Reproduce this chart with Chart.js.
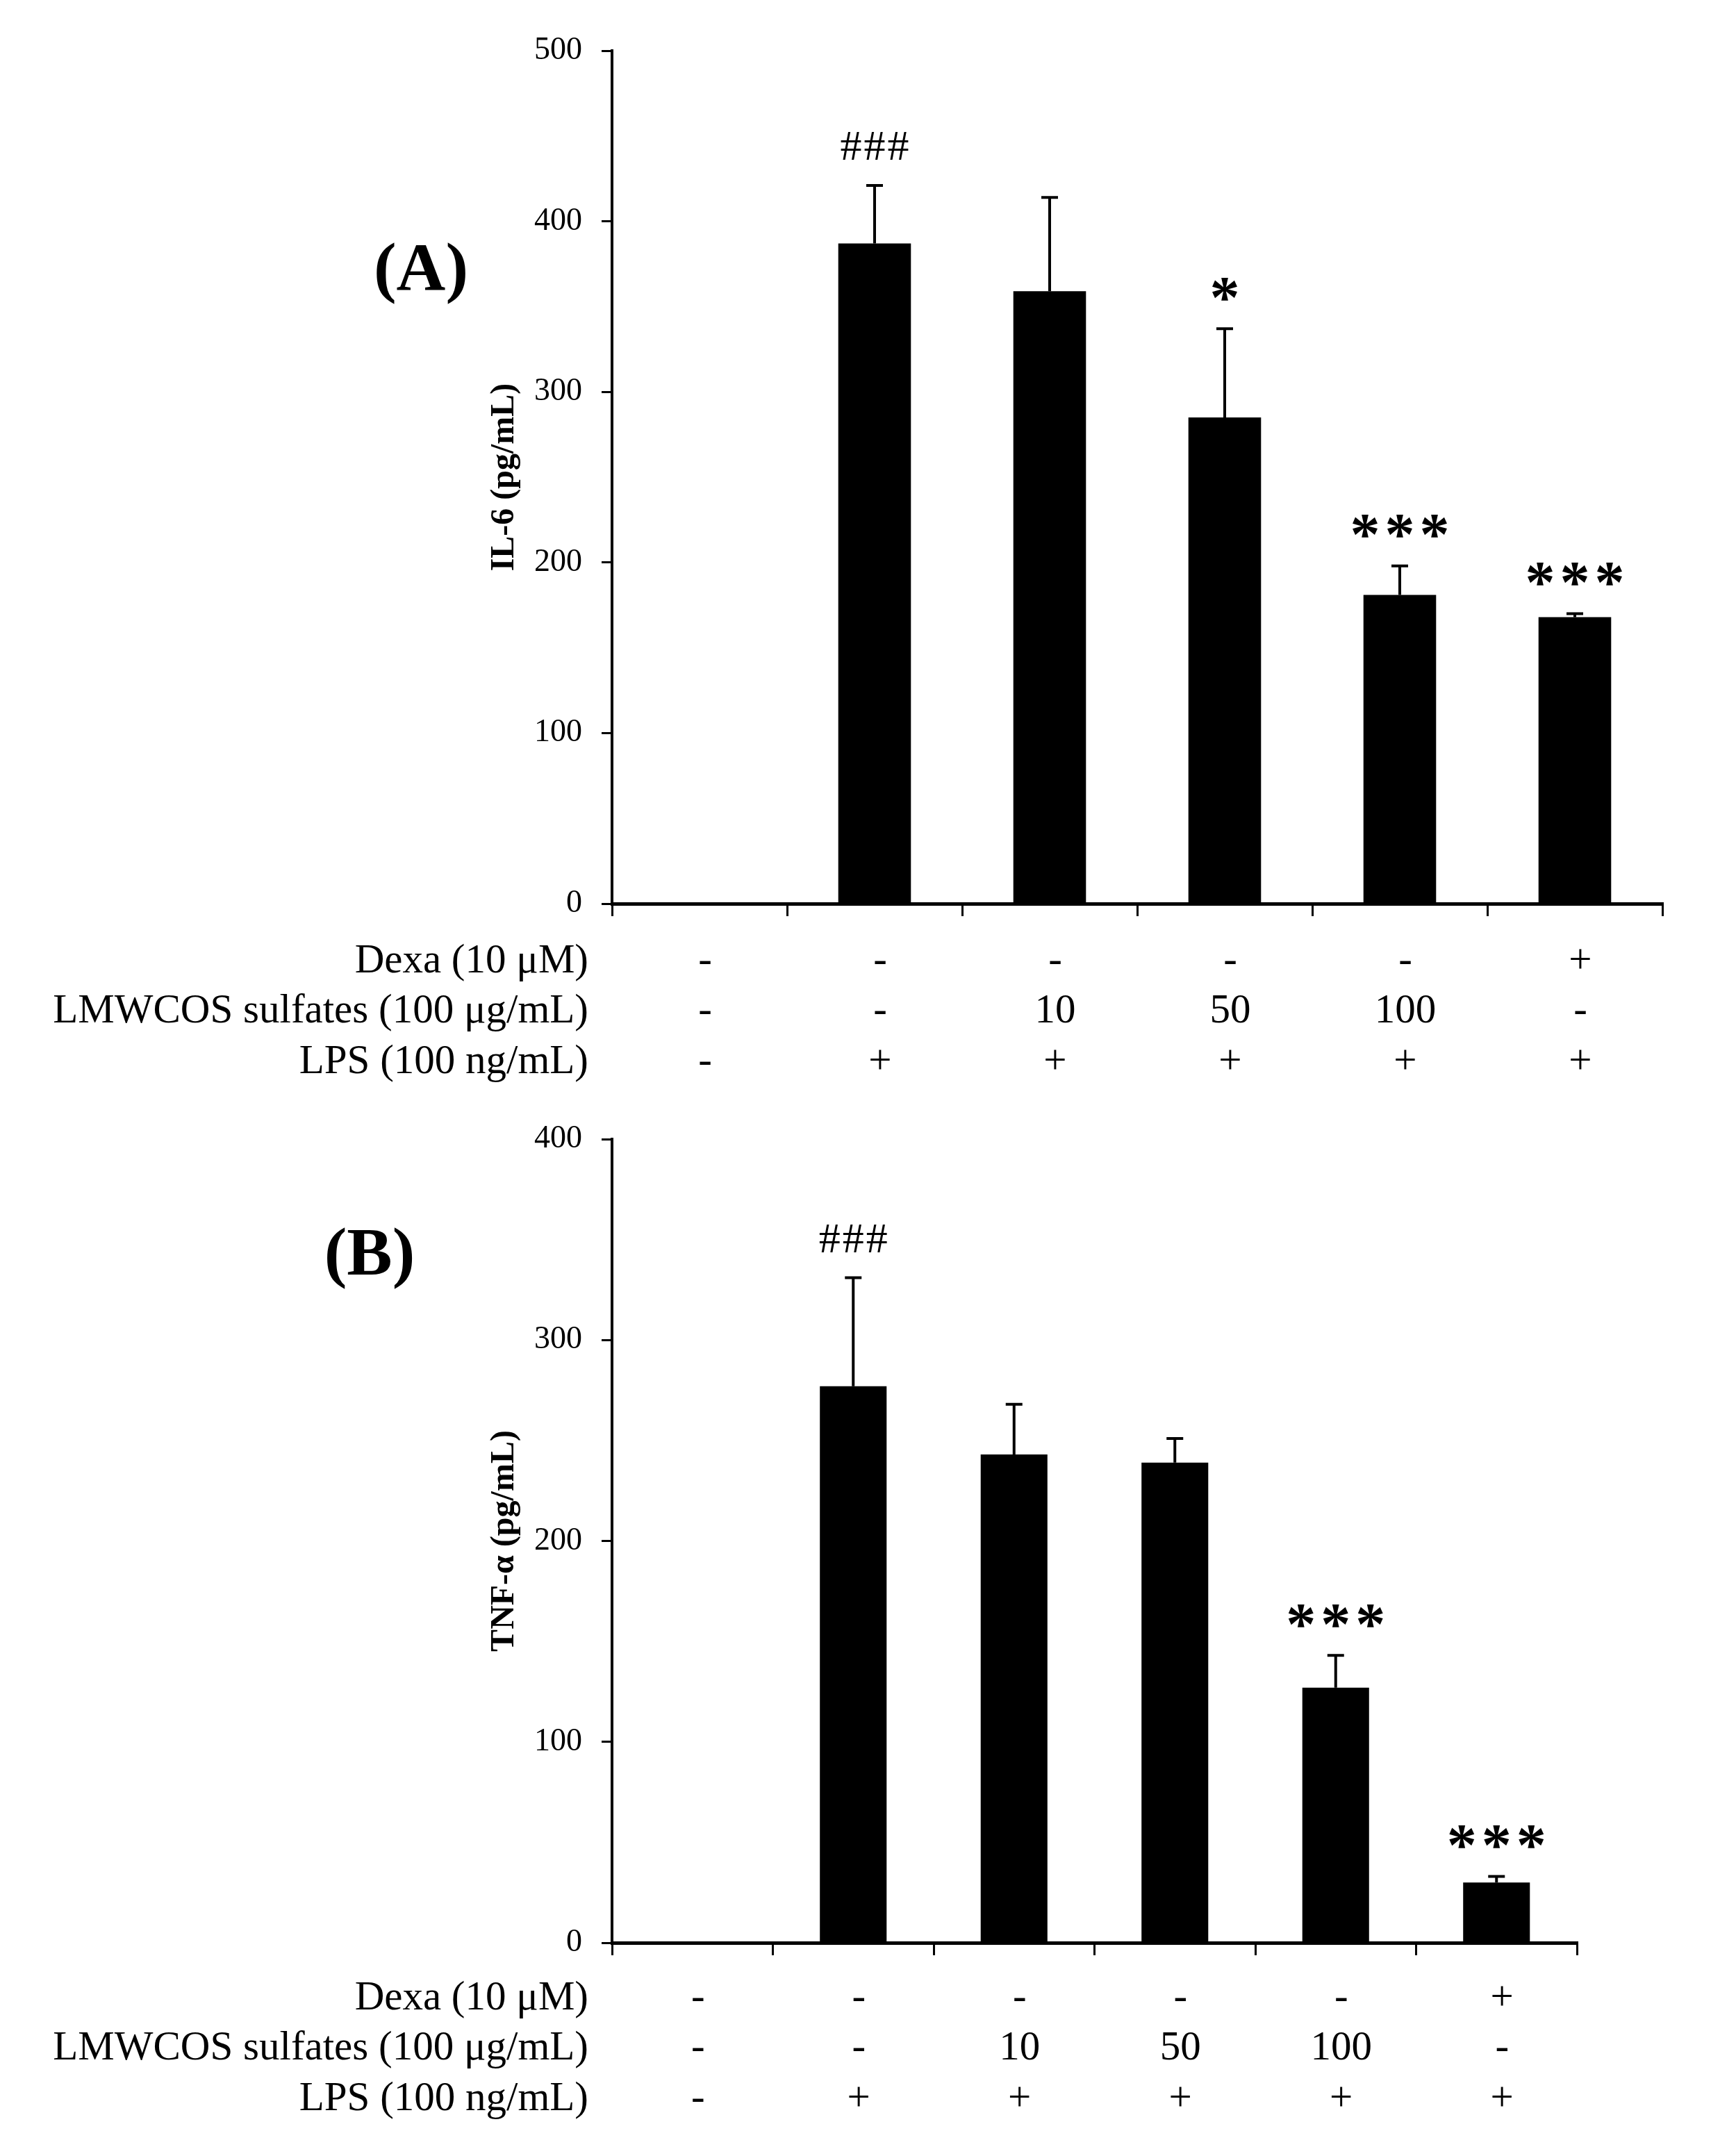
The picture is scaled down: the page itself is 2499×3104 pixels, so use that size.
<!DOCTYPE html>
<html>
<head>
<meta charset="utf-8">
<script src="https://cdn.jsdelivr.net/npm/chart.js@4.4.1/dist/chart.umd.min.js"></script>
<style>
  html, body { margin: 0; padding: 0; background: #fff; }
  #wrap { position: relative; width: 2499px; height: 3104px; }
  canvas { position: absolute; left: 0; }
</style>
</head>
<body>
<div id="wrap">
  <canvas id="chartA" width="2499" height="1560" style="top:0"></canvas>
  <canvas id="chartB" width="2499" height="1544" style="top:1560px"></canvas>
</div>
<script>
// groups (one bar each)
const categories = ['ctrl', 'LPS', 'LPS+10', 'LPS+50', 'LPS+100', 'LPS+Dexa'];

const il6Values = [0, 387, 359, 285, 181, 168];
const il6Errors = [0, 34, 55, 52, 17, 2];
const il6Marks = ['', '###', '', '*', '***', '***'];
const il6Ticks = [0, 100, 200, 300, 400, 500];

const tnfValues = [0, 277, 243, 239, 127, 30];
const tnfErrors = [0, 54, 25, 12, 16, 3];
const tnfMarks = ['', '###', '', '', '***', '***'];
const tnfTicks = [0, 100, 200, 300, 400];

// treatment table under each panel
const rowLabels = ['Dexa (10 μM)', 'LMWCOS sulfates (100 μg/mL)', 'LPS (100 ng/mL)'];
const dexaRow = ['-', '-', '-', '-', '-', '+'];
const lmwcosRow = ['-', '-', '10', '50', '100', '-'];
const lpsRow = ['-', '+', '+', '+', '+', '+'];

const serif = '"Liberation Serif", "Times New Roman", serif';

// error bars, significance marks, treatment table and panel letter
function extrasPlugin(cfg) {
    return {
        id: 'extras',
        afterDatasetsDraw(chart) {
            const ctx = chart.ctx;
            const meta = chart.getDatasetMeta(0);
            const y = chart.scales.y;
            ctx.save();
            ctx.strokeStyle = '#000';
            ctx.fillStyle = '#000';
            cfg.values.forEach((v, i) => {
                const err = cfg.errors[i];
                const bx = meta.data[i].x;
                const top = y.getPixelForValue(v + err);
                if (err > 0) {
                    ctx.lineWidth = 4;
                    ctx.beginPath();
                    ctx.moveTo(bx, y.getPixelForValue(v));
                    ctx.lineTo(bx, top);
                    ctx.moveTo(bx - 12, top);
                    ctx.lineTo(bx + 12, top);
                    ctx.stroke();
                }
                const mark = cfg.marks[i];
                if (mark) {
                    const isHash = mark[0] === '#';
                    const spacing = isHash ? 3 : 7;
                    ctx.font = isHash ? '62px ' + serif : 'bold 86px ' + serif;
                    ctx.letterSpacing = spacing + 'px';
                    ctx.textAlign = 'center';
                    ctx.textBaseline = 'alphabetic';
                    const m = ctx.measureText(mark);
                    const cy = top - 57;
                    ctx.fillText(mark, bx + spacing / 2,
                        cy + (m.actualBoundingBoxAscent - m.actualBoundingBoxDescent) / 2);
                }
            });
            ctx.restore();
        },
        afterDraw(chart) {
            const ctx = chart.ctx;
            const meta = chart.getDatasetMeta(0);
            const zero = chart.scales.y.getPixelForValue(0);
            const rows = [dexaRow, lmwcosRow, lpsRow];
            ctx.save();
            ctx.fillStyle = '#000';
            ctx.font = '59px ' + serif;
            ctx.textBaseline = 'alphabetic';
            rows.forEach((row, r) => {
                const ry = zero + cfg.rowOffsets[r];
                ctx.textAlign = 'right';
                ctx.fillText(rowLabels[r], chart.chartArea.left - 34, ry);
                ctx.textAlign = 'center';
                row.forEach((txt, i) => {
                    ctx.fillText(txt, meta.data[i].x + 8, ry);
                });
            });
            // panel letter
            ctx.font = 'bold 98px ' + serif;
            ctx.textAlign = 'center';
            ctx.fillText(cfg.panel, cfg.panelX, cfg.panelY);
            ctx.restore();
        }
    };
}

function makeChart(id, opts) {
    const canvas = document.getElementById(id);
    return new Chart(canvas, {
        type: 'bar',
        data: {
            labels: categories,
            datasets: [{
                data: opts.values,
                backgroundColor: '#000',
                borderWidth: 0,
                categoryPercentage: 1,
                barPercentage: 0.415
            }]
        },
        options: {
            responsive: false,
            animation: false,
            devicePixelRatio: 1,
            layout: { padding: { left: 0, top: opts.padTop, right: opts.padRight, bottom: 0 } },
            plugins: { legend: { display: false }, tooltip: { enabled: false } },
            scales: {
                x: {
                    ticks: { display: false },
                    grid: {
                        display: true,
                        offset: true,
                        drawOnChartArea: false,
                        drawTicks: true,
                        tickLength: 18,
                        lineWidth: 3,
                        color: '#000'
                    },
                    border: { display: true, color: '#000', width: 5 },
                    afterFit: s => { s.height = opts.xHeight; }
                },
                y: {
                    min: 0,
                    max: opts.ticks[opts.ticks.length - 1],
                    afterBuildTicks: s => { s.ticks = opts.ticks.map(v => ({ value: v })); },
                    ticks: {
                        color: '#000',
                        padding: 28,
                        font: { family: serif, size: 46 }
                    },
                    grid: {
                        display: true,
                        drawOnChartArea: false,
                        drawTicks: true,
                        tickLength: 15,
                        lineWidth: 3,
                        color: '#000'
                    },
                    border: { display: true, color: '#000', width: 4 },
                    title: {
                        display: true,
                        text: opts.title,
                        color: '#000',
                        font: { family: serif, size: 48, weight: 'bold' },
                        padding: { top: 698, bottom: 0 }
                    },
                    afterFit: s => { s.width = 881; }
                }
            }
        },
        plugins: [extrasPlugin({
            values: opts.values,
            errors: opts.errors,
            marks: opts.marks,
            rowOffsets: opts.rowOffsets,
            panel: opts.panel,
            panelX: opts.panelX,
            panelY: opts.panelY
        })]
    });
}

makeChart('chartA', {
    values: il6Values, errors: il6Errors, marks: il6Marks, ticks: il6Ticks,
    title: 'IL-6 (pg/mL)',
    padTop: 73, padRight: 106, xHeight: 259,
    rowOffsets: [99, 171, 244],
    panel: '(A)', panelX: 606, panelY: 417
});

makeChart('chartB', {
    values: tnfValues, errors: tnfErrors, marks: tnfMarks, ticks: tnfTicks,
    title: 'TNF-α (pg/mL)',
    padTop: 80, padRight: 229, xHeight: 307,
    rowOffsets: [96, 168, 241],
    panel: '(B)', panelX: 532, panelY: 275
});
</script>
</body>
</html>
